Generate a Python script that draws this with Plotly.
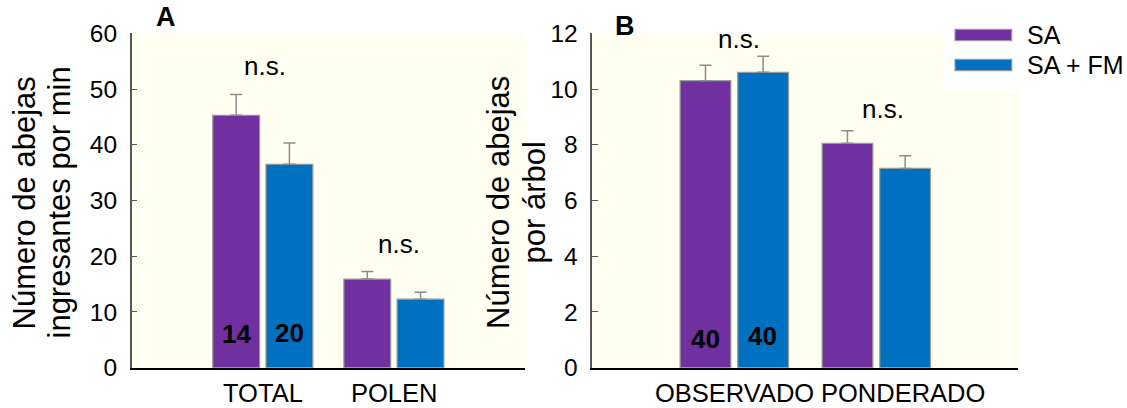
import plotly.graph_objects as go

# ---------------- data ----------------
cats_a = ["TOTAL", "POLEN"]
sa_a = [45.3, 15.9]
sa_a_err = [3.7, 1.35]
fm_a = [36.5, 12.3]
fm_a_err = [3.8, 1.25]

cats_b = ["OBSERVADO", "PONDERADO"]
sa_b = [10.3, 8.05]
sa_b_err = [0.55, 0.45]
fm_b = [10.6, 7.15]
fm_b_err = [0.58, 0.46]

series_names = ["SA", "SA + FM"]
n_labels_a = ["14", "20"]
n_labels_b = ["40", "40"]
ytitle_a = ["Número de abejas", "ingresantes por min"]
ytitle_b = ["Número de abejas", "por árbol"]

# ---------------- style ----------------
W, H = 1127, 408
PURPLE = "#7030A0"
BLUE = "#0070C0"
BG = "#FEFEF1"
FONT = "Liberation Sans, Arial, Helvetica, sans-serif"

def px_x(p):
    return p / W

def px_y(p):
    return 1 - p / H

fig = go.Figure()

def add_bars(cats, vals, errs, color, name, xa, ya):
    fig.add_trace(go.Bar(
        x=cats, y=vals, name=name, xaxis=xa, yaxis=ya,
        marker=dict(color=color, line=dict(color="#9A9A9A", width=1.2)),
        error_y=dict(type="data", symmetric=False, array=errs,
                     arrayminus=[0] * len(errs), color="#8C8C8C",
                     thickness=1.5, width=6),
        showlegend=False,
    ))

add_bars(cats_a, sa_a, sa_a_err, PURPLE, series_names[0], "x", "y")
add_bars(cats_a, fm_a, fm_a_err, BLUE, series_names[1], "x", "y")
add_bars(cats_b, sa_b, sa_b_err, PURPLE, series_names[0], "x2", "y2")
add_bars(cats_b, fm_b, fm_b_err, BLUE, series_names[1], "x2", "y2")

ydom = [px_y(367.7), px_y(33.3)]
xaxis_common = dict(type="category", range=[-1, 2], showticklabels=False,
                    ticks="", showline=True, linecolor="black", linewidth=2,
                    showgrid=False, zeroline=False, fixedrange=True,
                    automargin=False)
yaxis_common = dict(showline=True, linecolor="#555555", linewidth=1.5,
                    ticks="inside", ticklen=6, tickwidth=1.2, tickcolor="#555555",
                    showgrid=False, zeroline=False, automargin=False,
                    tickfont=dict(family=FONT, size=24.5, color="black"),
                    ticklabelstandoff=8, domain=ydom)

fig.update_layout(
    width=W, height=H,
    margin=dict(l=0, r=0, t=0, b=0, autoexpand=False),
    paper_bgcolor="white",
    plot_bgcolor=BG,
    barmode="group", bargap=0.188, bargroupgap=0.12,
    font=dict(family=FONT, color="black"),
    xaxis=dict(domain=[px_x(131.7), px_x(525)], anchor="y", **xaxis_common),
    xaxis2=dict(domain=[px_x(592.3), px_x(1018.3)], anchor="y2", **xaxis_common),
    yaxis=dict(range=[0, 60], dtick=10, anchor="x", **yaxis_common),
    yaxis2=dict(range=[0, 12], dtick=2, anchor="x2", **yaxis_common),
)

ann = []
# category labels (x axis)
lab_y = px_y(393.4)
for i, c in enumerate(cats_a):
    ann.append(dict(x=i, y=lab_y, xref="x", yref="paper", text=c, showarrow=False,
                    font=dict(size=25.5), xanchor="center", yanchor="middle"))
b_offsets = [0.0, 0.185]
for i, c in enumerate(cats_b):
    ann.append(dict(x=i + b_offsets[i], y=lab_y, xref="x2", yref="paper", text=c,
                    showarrow=False, font=dict(size=25.5), xanchor="center",
                    yanchor="middle"))

# y-axis titles
for xpix, t in zip([23.5, 58.5], ytitle_a):
    ann.append(dict(x=px_x(xpix), y=px_y(203), xref="paper", yref="paper", text=t,
                    textangle=-90, showarrow=False, font=dict(size=31),
                    xanchor="center", yanchor="middle"))
for xpix, t in zip([498, 533.5], ytitle_b):
    ann.append(dict(x=px_x(xpix), y=px_y(203), xref="paper", yref="paper", text=t,
                    textangle=-90, showarrow=False, font=dict(size=31),
                    xanchor="center", yanchor="middle"))

# panel letters
ann.append(dict(x=px_x(166), y=px_y(17), xref="paper", yref="paper", text="<b>A</b>",
                showarrow=False, font=dict(size=27), xanchor="center", yanchor="middle"))
ann.append(dict(x=px_x(624.5), y=px_y(26), xref="paper", yref="paper", text="<b>B</b>",
                showarrow=False, font=dict(size=27), xanchor="center", yanchor="middle"))

# n.s. labels
for xr, yr, xv, yv in [("x", "y", 0.02, 54.1), ("x", "y", 1.04, 22.2),
                       ("x2", "y2", 0.03, 11.78), ("x2", "y2", 1.045, 9.27)]:
    ann.append(dict(x=xv, y=yv, xref=xr, yref=yr, text="n.s.", showarrow=False,
                    font=dict(size=26), xanchor="center", yanchor="middle"))

# sample sizes
for xv, yv, t in [(-0.2, 6.0, n_labels_a[0]), (0.2, 6.28, n_labels_a[1])]:
    ann.append(dict(x=xv, y=yv, xref="x", yref="y", text="<b>" + t + "</b>",
                    showarrow=False, font=dict(size=26), xanchor="center",
                    yanchor="middle"))
for xv, yv, t in [(-0.2, 1.02, n_labels_b[0]), (0.2, 1.14, n_labels_b[1])]:
    ann.append(dict(x=xv, y=yv, xref="x2", yref="y2", text="<b>" + t + "</b>",
                    showarrow=False, font=dict(size=26), xanchor="center",
                    yanchor="middle"))

# legend (manual, wide swatches on white box)
shapes = [dict(type="rect", xref="paper", yref="paper", x0=px_x(943), x1=1,
               y0=px_y(90), y1=1, fillcolor="white", line=dict(width=0),
               layer="above")]
for (y0, y1), col, name, ty in [((29.3, 40.7), PURPLE, series_names[0], 35),
                                ((59.3, 70.7), BLUE, series_names[1], 65)]:
    shapes.append(dict(type="rect", xref="paper", yref="paper",
                       x0=px_x(955), x1=px_x(1011.7), y0=px_y(y1), y1=px_y(y0),
                       fillcolor=col, line=dict(color="#9A9A9A", width=1.2),
                       layer="above"))
    ann.append(dict(x=px_x(1025), y=px_y(ty), xref="paper", yref="paper", text=name,
                    showarrow=False, font=dict(size=25), xanchor="left",
                    yanchor="middle"))

fig.update_layout(annotations=ann, shapes=shapes)
fig.write_html("out.html")
